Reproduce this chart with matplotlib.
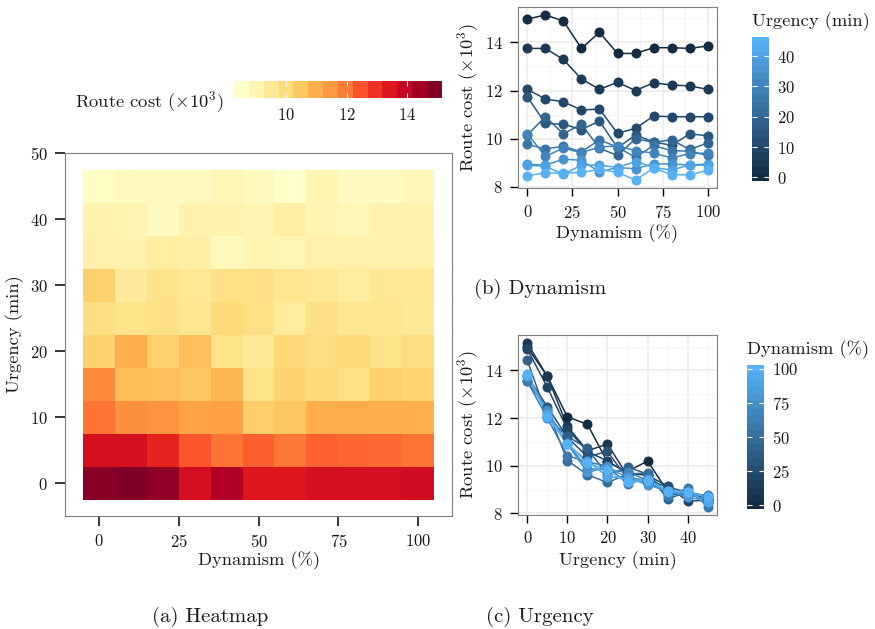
import numpy as np
import matplotlib
matplotlib.use("Agg")
import matplotlib.pyplot as plt
from matplotlib.colors import LinearSegmentedColormap, ListedColormap, Normalize
from matplotlib.cm import ScalarMappable
from matplotlib.ticker import MultipleLocator, FixedLocator

plt.rcParams['font.family'] = ['cmr10', 'DejaVu Serif']
plt.rcParams['mathtext.fontset'] = 'cm'
plt.rcParams['axes.formatter.use_mathtext'] = True
plt.rcParams['axes.unicode_minus'] = False

# ---- data ----
dynamism = [0, 10, 20, 30, 40, 50, 60, 70, 80, 90, 100]
urgency = [0, 5, 10, 15, 20, 25, 30, 35, 40, 45]
cost_u0 = [14.97, 15.14, 14.89, 13.75, 14.42, 13.54, 13.54, 13.78, 13.78, 13.75, 13.85]
cost_u5 = [13.75, 13.75, 13.29, 12.48, 12.05, 12.34, 12.00, 12.32, 12.23, 12.19, 12.05]
cost_u10 = [12.05, 11.65, 11.53, 11.19, 11.23, 10.22, 10.43, 10.94, 10.91, 10.91, 10.91]
cost_u15 = [11.74, 10.63, 10.60, 10.38, 10.73, 9.62, 10.15, 9.87, 9.72, 10.20, 10.12]
cost_u20 = [10.15, 10.91, 10.20, 10.60, 9.60, 9.30, 10.00, 9.85, 9.95, 9.55, 9.82]
cost_u25 = [9.76, 9.58, 9.68, 9.45, 9.95, 9.65, 9.22, 9.72, 9.50, 9.48, 9.30]
cost_u30 = [10.20, 9.27, 9.60, 9.42, 9.65, 9.70, 9.50, 9.40, 9.20, 9.38, 9.40]
cost_u35 = [8.93, 8.90, 9.15, 9.10, 8.62, 8.80, 8.75, 8.95, 8.95, 8.90, 8.95]
cost_u40 = [8.90, 8.85, 8.52, 8.90, 8.90, 8.80, 9.05, 8.80, 8.70, 8.90, 8.90]
cost_u45 = [8.46, 8.58, 8.56, 8.60, 8.72, 8.60, 8.28, 8.78, 8.50, 8.50, 8.68]
dyn_ticks = [0, 25, 50, 75, 100]
urg_ticks_heat = [0, 10, 20, 30, 40, 50]
urg_ticks = [0, 10, 20, 30, 40]
cost_ticks = [8, 10, 12, 14]
cost_cbar_ticks = [10, 12, 14]

Z = np.array([cost_u0, cost_u5, cost_u10, cost_u15, cost_u20,
              cost_u25, cost_u30, cost_u35, cost_u40, cost_u45])
D = np.array(dynamism)
U = np.array(urgency)

W, H = 875, 629
fig = plt.figure(figsize=(W / 100, H / 100), dpi=100)


def box(x0, y0, x1, y1):
    return [x0 / W, 1 - y1 / H, (x1 - x0) / W, (y1 - y0) / H]


TXT = '#1a1a1a'
FRAME = '#7f7f7f'
TICK_FS = 12
LAB_FS = 13.3
CAP_FS = 15

# ---- (a) heatmap ----
vmin, vmax = Z.min(), Z.max()
heat_norm = Normalize(vmin, vmax)
cmap_heat = plt.get_cmap('YlOrRd')
axh = fig.add_axes(box(65, 153, 452, 516))
axh.pcolormesh(D, U, Z, cmap=cmap_heat, norm=heat_norm, shading='nearest')
axh.set_xlim(D.min() - 5 - 5.5, D.max() + 5 + 5.5)
axh.set_ylim(U.min() - 2.5 - 2.5, U.max() + 2.5 + 2.5)
axh.set_xticks(dyn_ticks)
axh.set_yticks(urg_ticks_heat)
axh.tick_params(direction='out', length=7.5, width=1.1, color='black',
                labelsize=TICK_FS, labelcolor=TXT, pad=5)
for s in axh.spines.values():
    s.set_color(FRAME)
    s.set_linewidth(0.8)
axh.set_xlabel('Dynamism (%)', fontsize=LAB_FS, color=TXT, labelpad=1)
axh.set_ylabel('Urgency (min)', fontsize=LAB_FS, color=TXT, labelpad=4)

caxh = fig.add_axes(box(234, 81, 441.7, 98.3))
cb = fig.colorbar(ScalarMappable(norm=heat_norm, cmap=ListedColormap(cmap_heat(np.linspace(0, 1, 14)))),
                  cax=caxh, orientation='horizontal', ticks=cost_cbar_ticks)
cb.outline.set_visible(False)
cb.ax.minorticks_off()
cb.ax.tick_params(axis='x', direction='in', top=True, bottom=True, color='white',
                  length=3.5, width=0.8, labelsize=TICK_FS, labelcolor=TXT, pad=6)
fig.text(75 / W, 1 - 102 / H, r'Route cost ($\times10^3$)', fontsize=LAB_FS,
         color=TXT, ha='left', va='center')

# ---- shared gradient ----
blue = LinearSegmentedColormap.from_list('gg', ['#132B43', '#56B1F7'])


def style_line_ax(ax, xmaj, xmin_step):
    ax.set_facecolor('white')
    ax.set_xticks(xmaj)
    ax.xaxis.set_minor_locator(FixedLocator(xmin_step))
    ax.set_yticks(cost_ticks)
    ax.yaxis.set_minor_locator(MultipleLocator(1))
    ax.grid(which='major', color='#EBEBEB', lw=1.1)
    ax.grid(which='minor', color='#F4F4F4', lw=0.6)
    ax.set_axisbelow(True)
    ax.tick_params(which='major', direction='out', length=6, width=1.0, color='black',
                   labelsize=TICK_FS, labelcolor=TXT, pad=5)
    ax.tick_params(which='minor', length=0)
    for s in ax.spines.values():
        s.set_color(FRAME)
        s.set_linewidth(0.8)
    ylo, yhi = Z.min(), Z.max()
    pad = 0.05 * (yhi - ylo)
    ax.set_ylim(ylo - pad, yhi + pad)
    ax.set_ylabel(r'Route cost ($\times10^3$)', fontsize=LAB_FS, color=TXT, labelpad=3)


def vbar(cax, norm, ticks):
    cbv = fig.colorbar(ScalarMappable(norm=norm, cmap=ListedColormap(blue(np.linspace(0, 1, 20)))),
                       cax=cax, orientation='vertical', ticks=ticks)
    cbv.outline.set_visible(False)
    cbv.ax.minorticks_off()
    cbv.ax.tick_params(axis='y', direction='in', left=True, right=True, color='white',
                       length=3.5, width=0.8, labelsize=TICK_FS, labelcolor=TXT, pad=6)
    return cbv


# ---- (b) dynamism ----
axb = fig.add_axes(box(518.3, 6.7, 716.7, 188.3))
nb_u = Normalize(U.min(), U.max())
for i, u in enumerate(U):
    axb.plot(D, Z[i], color=blue(nb_u(u)), lw=1.1, zorder=2)
for i, u in enumerate(U):
    axb.plot(D, Z[i], 'o', ms=7.2, color=blue(nb_u(u)), mec='none', zorder=3)
axb.set_xlim(D.min() - 5, D.max() + 5)
style_line_ax(axb, dyn_ticks, [12.5, 37.5, 62.5, 87.5])
axb.set_xlabel('Dynamism (%)', fontsize=LAB_FS, color=TXT, labelpad=3)
binb = (U.max() - U.min()) / 19 / 2
caxb = fig.add_axes(box(752.3, 37.3, 769, 181))
vbar(caxb, Normalize(U.min() - binb, U.max() + binb), [0, 10, 20, 30, 40])
fig.text(752 / W, 1 - 22 / H, 'Urgency (min)', fontsize=LAB_FS, color=TXT, ha='left', va='center')

# ---- (c) urgency ----
axc = fig.add_axes(box(518.3, 335, 716.7, 515))
nc_d = Normalize(D.min(), D.max())
for j, d in enumerate(D):
    axc.plot(U, Z[:, j], color=blue(nc_d(d)), lw=1.1, zorder=2)
for j, d in enumerate(D):
    axc.plot(U, Z[:, j], 'o', ms=7.2, color=blue(nc_d(d)), mec='none', zorder=3)
axc.set_xlim(U.min() - 2.25, U.max() + 2.25)
style_line_ax(axc, urg_ticks, [5, 15, 25, 35, 45])
axc.set_xlabel('Urgency (min)', fontsize=LAB_FS, color=TXT, labelpad=4)
binc = (D.max() - D.min()) / 19 / 2
caxc = fig.add_axes(box(747.3, 365, 764, 509))
vbar(caxc, Normalize(D.min() - binc, D.max() + binc), [0, 25, 50, 75, 100])
fig.text(747 / W, 1 - 350 / H, 'Dynamism (%)', fontsize=LAB_FS, color=TXT, ha='left', va='center')

# ---- captions ----
fig.text(210 / W, 1 - 617 / H, '(a) Heatmap', fontsize=CAP_FS, color=TXT, ha='center', va='center')
fig.text(540 / W, 1 - 289 / H, '(b) Dynamism', fontsize=CAP_FS, color=TXT, ha='center', va='center')
fig.text(540 / W, 1 - 617 / H, '(c) Urgency', fontsize=CAP_FS, color=TXT, ha='center', va='center')

fig.savefig('out.png', dpi=100, facecolor='white')
